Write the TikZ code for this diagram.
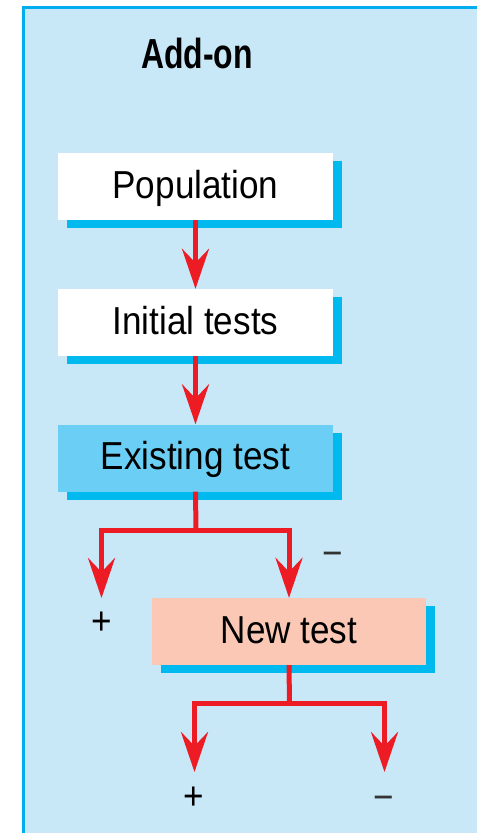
\documentclass[tikz,border=0pt]{standalone}
\usepackage{fontspec}
\setmainfont{Liberation Sans}[FakeStretch=0.9]
\newfontfamily\headfont{Liberation Sans}[FakeStretch=0.76]
\usetikzlibrary{arrows.meta,positioning,shadows}
\definecolor{panelblue}{HTML}{C8E8F8}
\definecolor{edgeblue}{HTML}{00AEEF}
\definecolor{shadowblue}{HTML}{00B9EF}
\definecolor{boxblue}{HTML}{6BCEF5}
\definecolor{boxpeach}{HTML}{FAC8B4}
\definecolor{arrowred}{HTML}{ED1C24}
\definecolor{signgray}{HTML}{333333}
\begin{document}
\begin{tikzpicture}[x=1pt,y=-1pt,
  bx/.style={fill=white,minimum width=275pt,minimum height=67pt,inner sep=0pt,text height=25pt,text depth=2pt,font=\fontsize{39}{45}\selectfont,drop shadow={shadow xshift=9pt,shadow yshift=-8pt,fill=shadowblue,opacity=1}},
  ln/.style={draw=arrowred,line width=5pt},
  ar/.style={ln,-{Stealth[length=40pt,width=27pt,inset=14pt]}},
  sg/.style={font=\fontsize{39}{45}\selectfont,inner sep=0pt}]
\useasboundingbox (0,0) rectangle (477,833);
% ---------- panel ----------
\fill[panelblue] (23,7) rectangle (477,833);
\draw[edgeblue,line width=3pt] (23.5,833) |- (477,7.5);
\node[font=\headfont\fontsize{42}{48}\selectfont\bfseries,anchor=base] (head) at (197,68) {Add-on};
% ---------- boxes ----------
\node[bx] (pop) at (195.5,186.5) {Population};
\node[bx] (init) at (195.5,322.5) {Initial tests};
\node[bx,fill=boxblue] (ex) at (195.5,458) {Existing test};
\node[bx,fill=boxpeach,minimum width=274pt] (nt) at (289,631.5) {New test};
% ---------- arrows ----------
\draw[ar] (pop.south) -- (init.north);
\draw[ar] (init.south) -- (ex.north);
\coordinate (j1) at (196,530);
\coordinate (t1) at (101.5,598);
\draw[ln] (ex.south) -- (j1);
\draw[ar] (j1) -| (t1);
\draw[ar] (j1) -| (nt.north);
\coordinate (j2) at (289.5,703);
\coordinate (t2) at (194.5,772);
\coordinate (t3) at (384.5,772);
\draw[ln] (nt.south) -- (j2);
\draw[ar] (j2) -| (t2);
\draw[ar] (j2) -| (t3);
% ---------- signs ----------
\node[sg] (p1) at (102,623) {+};
\node[sg,text=signgray] (m1) at (333,559) {−};
\node[sg] (p2) at (194,798) {+};
\node[sg,text=signgray] (m2) at (384,803) {−};
\end{tikzpicture}
\end{document}
